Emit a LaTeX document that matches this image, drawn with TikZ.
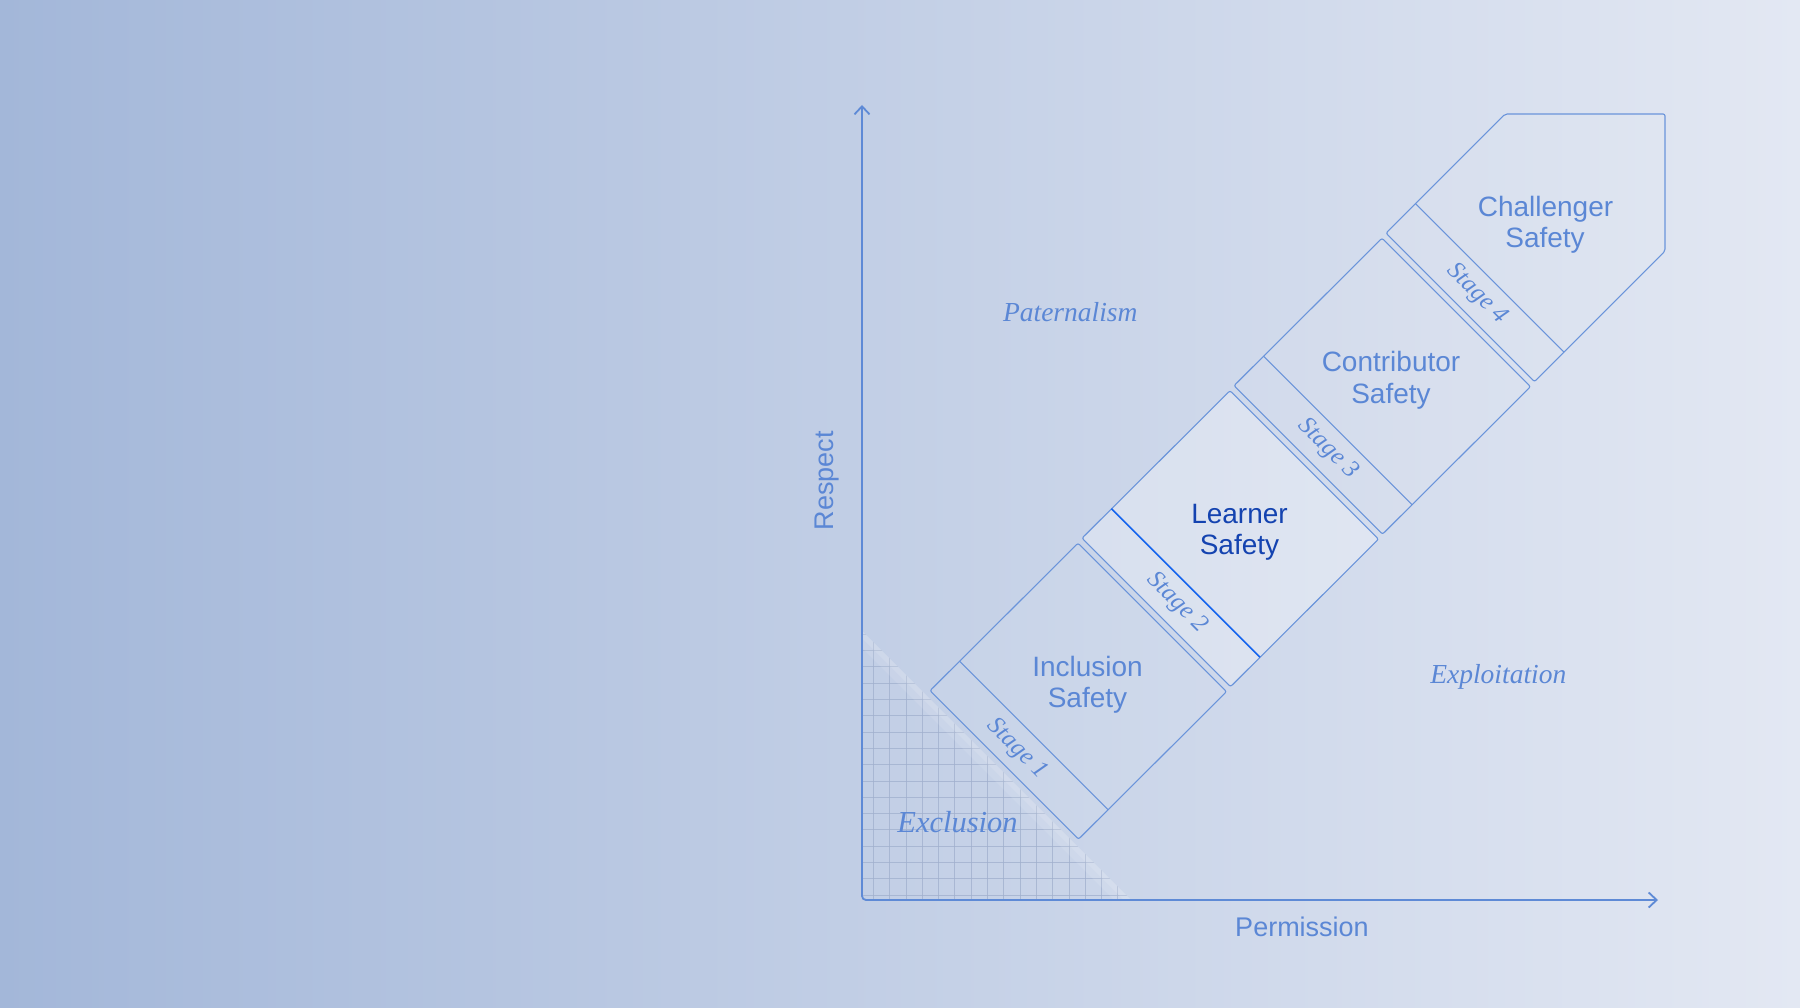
\documentclass[tikz,border=0pt]{standalone}
\usepackage{fontspec}
\setmainfont{Liberation Serif}
\setsansfont{Liberation Sans}
\usetikzlibrary{arrows.meta,calc}
\definecolor{bgL}{HTML}{A3B7D9}
\definecolor{bgR}{HTML}{E3E8F3}
\definecolor{ink}{HTML}{5B87D5}
\definecolor{inkline}{HTML}{6A94DA}
\definecolor{axisc}{HTML}{5E8AD6}
\definecolor{deep}{HTML}{1443B0}
\definecolor{hl}{HTML}{1464EE}
\definecolor{gridc}{HTML}{A0AFCD}
\begin{document}
\begin{tikzpicture}[x=1pt,y=-1pt,
  unitbox/.style={draw=inkline, line width=1.1pt, rounded corners=2pt, fill=white, fill opacity=0.05},
  hlbox/.style={draw=inkline, line width=1.1pt, rounded corners=2pt, fill=white, fill opacity=0.28},
  sepline/.style={draw=inkline, line width=1.1pt},
  hlsep/.style={draw=hl, line width=1.6pt},
  blk/.style={font=\sffamily\fontsize{28pt}{30pt}\selectfont, text=ink, inner sep=0pt, anchor=base},
  stg/.style={font=\itshape\fontsize{25pt}{27pt}\selectfont, text=ink, inner sep=0pt, rotate=-45},
  axl/.style={font=\sffamily\fontsize{27pt}{29pt}\selectfont, text=ink, inner sep=0pt, anchor=base},
  ser/.style={font=\itshape\fontsize{27.5pt}{29pt}\selectfont, text=ink, inner sep=0pt, anchor=base},
  axisline/.style={draw=axisc, line width=1.8pt, rounded corners=4pt},
  gridline/.style={draw=gridc, line width=0.75pt, draw opacity=0.75}
]
\useasboundingbox (0,0) rectangle (1800,1008);
% background
\shade[left color=bgL, right color=bgR] (0,0) rectangle (1800,1008);

% grid triangle (Exclusion zone)
\coordinate (g1) at (862,631);
\coordinate (g2) at (862,900);
\coordinate (g3) at (1131,900);
\begin{scope}
  \clip (g1) -- (g2) -- (g3) -- cycle;
  \foreach \i in {0,...,16} {
    \draw[gridline] ({873.3+16.3*\i},600) -- ({873.3+16.3*\i},905);
  }
  \foreach \i in {0,...,17} {
    \draw[gridline] (855,{895-16.3*\i}) -- (1140,{895-16.3*\i});
  }
  \draw[white, opacity=0.10, line width=24pt] (g1) -- (g3);
  \draw[white, opacity=0.12, line width=10pt] (g1) -- (g3);
\end{scope}

% axes
\coordinate (ytip) at (862,105);
\coordinate (origin) at (862,900);
\coordinate (xtip) at (1658,900);
\draw[axisline, {Straight Barb[length=8pt,width=15pt]}-{Straight Barb[length=8pt,width=15pt]}] (ytip) -- (origin) -- (xtip);

% unit corner coordinates
\foreach \n/\x/\y in {1/930/690.7, 2/1082/538.2, 3/1234/385.7, 4/1386/233.2} {
  \coordinate (L\n) at (\x,\y);
  \coordinate (T\n) at ($(L\n)+(148,-147.5)$);
  \coordinate (R\n) at ($(T\n)+(148.5,148.5)$);
  \coordinate (B\n) at ($(L\n)+(148.5,148.5)$);
  \coordinate (S\n) at ($(L\n)+(29.5,-29.5)$);
  \coordinate (E\n) at ($(S\n)+(148.5,148.5)$);
}
\coordinate (P1) at ($(S4)+(89.7,-89.7)$);
\coordinate (P2) at (1665,114);
\coordinate (P3) at (1665,251.2);

% units
\draw[unitbox] (L1) -- (T1) -- (R1) -- (B1) -- cycle;
\draw[sepline] (S1) -- (E1);
\draw[unitbox] (L3) -- (T3) -- (R3) -- (B3) -- cycle;
\draw[sepline] (S3) -- (E3);
\draw[unitbox] (L4) -- (P1) -- (P2) -- (P3) -- (B4) -- cycle;
\draw[sepline] (S4) -- (E4);
\draw[hlbox] (L2) -- (T2) -- (R2) -- (B2) -- cycle;
\draw[hlsep] (S2) -- (E2);

% block labels
\node[blk] (chal1) at (1545.5,217) {Challenger};
\node[blk] (chal2) at (1545,248) {Safety};
\node[blk] (con1) at (1391,372) {Contributor};
\node[blk] (con2) at (1391,403.5) {Safety};
\node[blk, text=deep] (lea1) at (1239.5,523) {Learner};
\node[blk, text=deep] (lea2) at (1239.5,554) {Safety};
\node[blk] (inc1) at (1087.5,676) {Inclusion};
\node[blk] (inc2) at (1087.5,707.3) {Safety};

% stage labels
\node[stg] (st1) at (1017,749) {Stage 1};
\node[stg] (st2) at (1177,603) {Stage 2};
\node[stg] (st3) at (1328,449) {Stage 3};
\node[stg] (st4) at (1477,294) {Stage 4};

% axis and region labels
\node[axl, rotate=90] (resp) at (833.3,480.8) {Respect};
\node[axl] (perm) at (1302,936.7) {Permission};
\node[ser] (pat) at (1070.3,321.7) {Paternalism};
\node[ser] (expl) at (1498.3,683.3) {Exploitation};
\node[ser, font=\itshape\fontsize{30.5pt}{32pt}\selectfont] (excl) at (957.5,832.7) {Exclusion};
\end{tikzpicture}
\end{document}
